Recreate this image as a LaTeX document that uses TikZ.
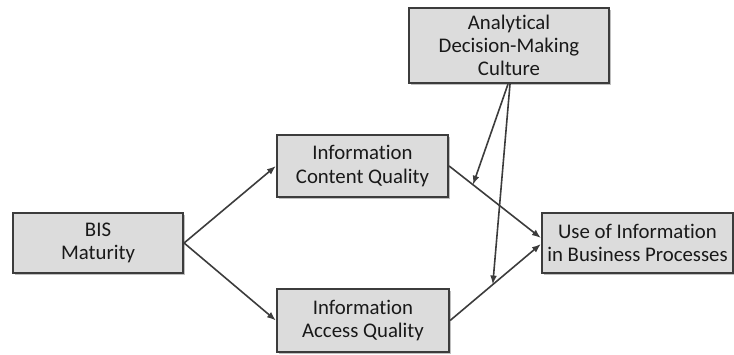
\documentclass[tikz,border=0pt]{standalone}
\usepackage{fontspec}
\setmainfont{Carlito}[Ligatures=NoCommon]
\usepackage{xcolor}
\usepackage{tikz}
\usetikzlibrary{arrows.meta, positioning, shadows}

\definecolor{boxfill}{HTML}{DCDCDC}
\definecolor{boxline}{HTML}{3C3C3C}

\begin{document}
\begin{tikzpicture}[
    x=0.5pt, y=-0.5pt,
    box/.style={rectangle, draw=boxline, line width=1.1pt, fill=boxfill, align=center,
      font=\fontsize{10.4pt}{11.6pt}\selectfont, text=black!90, inner sep=0pt,
      drop shadow={shadow xshift=1.2pt, shadow yshift=-1.2pt, fill=black, opacity=0.25}},
    arrow/.style={-{Latex[length=4.5pt, width=3.4pt]}, line width=0.8pt, draw=boxline},
  ]
    \useasboundingbox (0,0) rectangle (734,354);

    % Nodes
    \node[box, minimum width=85pt, minimum height=30pt] (bis) at (98,243) {BIS\\Maturity};
    \node[box, minimum width=85.5pt, minimum height=31pt] (content) at (362.5,166) {Information\\Content Quality};
    \node[box, minimum width=86pt, minimum height=31.5pt] (access) at (363,320.5) {Information\\Access Quality};
    \node[box, minimum width=100pt, minimum height=37.5pt] (culture) at (509,45.5) {Analytical\\Decision-Making\\Culture};
    \node[box, minimum width=95.5pt, minimum height=30pt] (use) at (637.5,243) {Use of Information\\in Business Processes};

    % Arrows
    \draw[arrow] (bis.east) -- (content.west);
    \draw[arrow] (bis.east) -- (access.west);
    \draw[arrow] (content.east) -- coordinate[pos=0.26] (modtop) ([yshift=2.5pt]use.west);
    \draw[arrow] (access.east) -- coordinate[pos=0.47] (modbot) ([yshift=-0.5pt]use.west);
    \draw[arrow] ([xshift=-0.5pt]culture.south) -- (modtop);
    \draw[arrow] ([xshift=0.5pt]culture.south) -- (modbot);

  \end{tikzpicture}
\end{document}
